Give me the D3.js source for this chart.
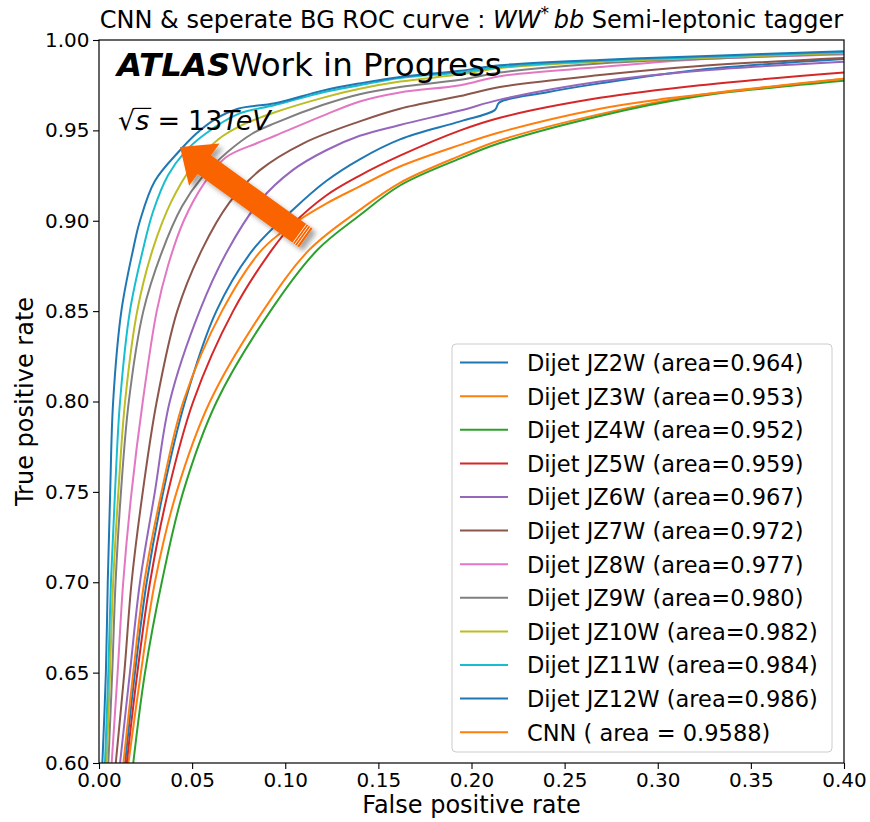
<!DOCTYPE html>
<html>
<head>
<meta charset="utf-8">
<script src="https://cdn.jsdelivr.net/npm/d3@7"></script>
<style>
body { margin: 0; background: #fff; }
text { font-family: "DejaVu Sans", sans-serif; }
</style>
</head>
<body>
<div id="chart"></div>
<script>
// ROC points: [false positive rate, true positive rate]
var jz2W = [[0.0140,0.60],[0.0193,0.65],[0.0256,0.70],[0.0345,0.75],[0.0462,0.80],[0.0630,0.85],[0.0827,0.884],[0.104,0.906],[0.122,0.922],[0.140,0.934],[0.1616,0.945],[0.194,0.955],[0.2125,0.9612],[0.2150,0.9655],[0.240,0.971],[0.269,0.976],[0.3227,0.9835],[0.40,0.9895]];
var jz3W = [[0.0158,0.60],[0.0225,0.65],[0.0300,0.70],[0.0417,0.75],[0.0596,0.80],[0.0880,0.85],[0.1130,0.884],[0.140,0.906],[0.1616,0.921],[0.194,0.936],[0.2153,0.9445],[0.269,0.959],[0.3227,0.9697],[0.36,0.9742],[0.40,0.9785]];
var jz4W = [[0.0184,0.60],[0.0247,0.65],[0.0337,0.70],[0.0452,0.75],[0.0632,0.80],[0.0920,0.85],[0.1172,0.8838],[0.140,0.903],[0.1616,0.9195],[0.194,0.9345],[0.2153,0.943],[0.269,0.958],[0.3227,0.969],[0.36,0.9735],[0.40,0.9775]];
var jz5W = [[0.0149,0.60],[0.0206,0.65],[0.0274,0.70],[0.0371,0.75],[0.0506,0.80],[0.0720,0.85],[0.0929,0.884],[0.104,0.898],[0.122,0.914],[0.140,0.925],[0.1616,0.936],[0.194,0.950],[0.2153,0.957],[0.269,0.968],[0.3227,0.975],[0.40,0.982]];
var jz6W = [[0.0113,0.60],[0.0166,0.65],[0.0220,0.70],[0.0300,0.75],[0.0380,0.80],[0.0540,0.85],[0.0693,0.884],[0.0864,0.911],[0.104,0.928],[0.122,0.939],[0.140,0.947],[0.1616,0.953],[0.194,0.961],[0.2153,0.967],[0.269,0.977],[0.3227,0.983],[0.40,0.988]];
var jz7W = [[0.0090,0.60],[0.0136,0.65],[0.0175,0.70],[0.0235,0.75],[0.0310,0.80],[0.0420,0.85],[0.0553,0.884],[0.070,0.910],[0.0864,0.928],[0.110,0.943],[0.140,0.955],[0.1616,0.962],[0.194,0.969],[0.2153,0.974],[0.269,0.9806],[0.3227,0.9856],[0.40,0.990]];
var jz8W = [[0.0068,0.60],[0.0100,0.65],[0.0130,0.70],[0.0175,0.75],[0.0235,0.80],[0.0310,0.85],[0.0370,0.875],[0.0455,0.90],[0.056,0.92],[0.068,0.935],[0.085,0.943],[0.0945,0.947],[0.120,0.958],[0.140,0.966],[0.1616,0.971],[0.194,0.975],[0.2153,0.980],[0.269,0.985],[0.3227,0.9893],[0.40,0.992]];
var jz9W = [[0.0050,0.60],[0.0071,0.65],[0.0089,0.70],[0.0118,0.75],[0.0160,0.80],[0.0238,0.85],[0.0335,0.882],[0.0446,0.908],[0.0553,0.924],[0.069,0.938],[0.082,0.948],[0.0945,0.954],[0.120,0.964],[0.140,0.970],[0.1616,0.974],[0.194,0.978],[0.2153,0.982],[0.269,0.987],[0.3227,0.9895],[0.40,0.9925]];
var jz10W = [[0.0041,0.60],[0.0059,0.65],[0.0076,0.70],[0.0104,0.75],[0.0140,0.80],[0.0205,0.85],[0.0288,0.884],[0.039,0.911],[0.050,0.930],[0.064,0.945],[0.077,0.953],[0.0945,0.960],[0.120,0.968],[0.140,0.973],[0.1616,0.977],[0.194,0.981],[0.2153,0.9845],[0.269,0.988],[0.3227,0.990],[0.40,0.993]];
var jz11W = [[0.0032,0.60],[0.0050,0.65],[0.0064,0.70],[0.0086,0.75],[0.0113,0.80],[0.0166,0.85],[0.0236,0.884],[0.029,0.905],[0.037,0.925],[0.046,0.938],[0.057,0.948],[0.0746,0.959],[0.0945,0.964],[0.120,0.971],[0.140,0.975],[0.1616,0.979],[0.194,0.982],[0.2153,0.985],[0.269,0.9885],[0.3227,0.9905],[0.40,0.9933]];
var jz12W = [[0.0018,0.60],[0.0037,0.65],[0.0047,0.70],[0.0060,0.75],[0.0076,0.80],[0.0120,0.85],[0.0183,0.884],[0.0220,0.90],[0.030,0.922],[0.0435,0.939],[0.052,0.948],[0.062,0.956],[0.0746,0.962],[0.0945,0.965],[0.120,0.972],[0.140,0.976],[0.1616,0.9795],[0.194,0.983],[0.2153,0.986],[0.269,0.989],[0.3227,0.991],[0.40,0.9938]];
var cnn = [[0.0131,0.60],[0.0184,0.65],[0.0243,0.70],[0.0336,0.75],[0.0453,0.80],[0.0660,0.85],[0.0875,0.884],[0.104,0.898],[0.122,0.9095],[0.140,0.919],[0.1616,0.930],[0.194,0.942],[0.2153,0.949],[0.269,0.962],[0.30,0.967],[0.3227,0.9697],[0.36,0.974],[0.40,0.9785]];

var seriesLabels = ["Dijet JZ2W (area=0.964)", "Dijet JZ3W (area=0.953)", "Dijet JZ4W (area=0.952)",
    "Dijet JZ5W (area=0.959)", "Dijet JZ6W (area=0.967)", "Dijet JZ7W (area=0.972)",
    "Dijet JZ8W (area=0.977)", "Dijet JZ9W (area=0.980)", "Dijet JZ10W (area=0.982)",
    "Dijet JZ11W (area=0.984)", "Dijet JZ12W (area=0.986)", "CNN ( area = 0.9588)"];
var seriesColors = ["#1f77b4", "#ff7f0e", "#2ca02c", "#d62728", "#9467bd", "#8c564b",
    "#e377c2", "#7f7f7f", "#bcbd22", "#17becf", "#1f77b4", "#ff7f0e"];
var seriesPoints = [jz2W, jz3W, jz4W, jz5W, jz6W, jz7W, jz8W, jz9W, jz10W, jz11W, jz12W, cnn];

var xTicks = [0, 0.05, 0.10, 0.15, 0.20, 0.25, 0.30, 0.35, 0.40];
var yTicks = [0.60, 0.65, 0.70, 0.75, 0.80, 0.85, 0.90, 0.95, 1.00];

// arrow annotation, tail -> tip in data coords
var arrowTail = [0.1110, 0.8905];
var arrowTip = [0.0435, 0.9408];

var series = seriesPoints.map(function (p, i) {
    return {points: p, label: seriesLabels[i], color: seriesColors[i]};
});

var margin = {top: 40, right: 26, bottom: 59, left: 99},
    width = 870 - margin.left - margin.right,
    height = 822 - margin.top - margin.bottom;

var x = d3.scaleLinear().domain([0, 0.4]).range([0, width]);
var y = d3.scaleLinear().domain([0.6, 1.0]).range([height, 0]);

var svg = d3.select("#chart").append("svg")
    .attr("width", 870)
    .attr("height", 822);

var defs = svg.append("defs");
defs.append("clipPath").attr("id", "plotClip")
    .append("rect").attr("width", width).attr("height", height);
var shadow = defs.append("filter").attr("id", "arrowShadow")
    .attr("x", "-30%").attr("y", "-30%").attr("width", "160%").attr("height", "160%");
shadow.append("feDropShadow")
    .attr("dx", 4).attr("dy", 4).attr("stdDeviation", 2.5)
    .attr("flood-color", "#000").attr("flood-opacity", 0.35);

var g = svg.append("g")
    .attr("transform", "translate(" + margin.left + "," + margin.top + ")");

var valueline = d3.line()
    .x(function (d) { return x(d[0]); })
    .y(function (d) { return y(d[1]); })
    .curve(d3.curveCatmullRom.alpha(0.5));

g.append("g")
    .attr("clip-path", "url(#plotClip)")
    .selectAll("path")
    .data(series)
    .enter().append("path")
    .attr("d", function (d) { return valueline(d.points); })
    .attr("fill", "none")
    .attr("stroke", function (d) { return d.color; })
    .attr("stroke-width", 2)
    .attr("stroke-linejoin", "round");

// axes
var xAxis = d3.axisBottom(x).tickValues(xTicks).tickFormat(d3.format(".2f"))
    .tickSizeInner(6).tickSizeOuter(0).tickPadding(3.5);
var yAxis = d3.axisLeft(y).tickValues(yTicks).tickFormat(d3.format(".2f"))
    .tickSizeInner(6).tickSizeOuter(0).tickPadding(3.5);

var gx = g.append("g")
    .attr("transform", "translate(0," + height + ")")
    .call(xAxis)
    .attr("font-size", 20);
gx.select(".domain").remove();
gx.selectAll("text").attr("fill", "#000");
gx.selectAll("line").attr("stroke", "#000").attr("stroke-width", 1.1);

var gy = g.append("g")
    .call(yAxis)
    .attr("font-size", 20);
gy.select(".domain").remove();
gy.selectAll("text").attr("fill", "#000");
gy.selectAll("line").attr("stroke", "#000").attr("stroke-width", 1.1);

g.append("rect")
    .attr("width", width)
    .attr("height", height)
    .attr("fill", "none")
    .attr("stroke", "#000")
    .attr("stroke-width", 1.2);

// axis labels
g.append("text")
    .attr("x", width / 2)
    .attr("y", height + 50)
    .attr("text-anchor", "middle")
    .attr("font-size", 24)
    .text("False positive rate");

g.append("text")
    .attr("transform", "translate(" + (33 - margin.left) + "," + (height / 2) + ") rotate(-90)")
    .attr("text-anchor", "middle")
    .attr("font-size", 24)
    .text("True positive rate");

// title
var title = g.append("text")
    .attr("x", width / 2)
    .attr("y", -12)
    .attr("text-anchor", "middle")
    .attr("font-size", 24);
title.append("tspan").text("CNN & seperate BG ROC curve : ");
title.append("tspan").attr("font-style", "italic").text("WW");
title.append("tspan").attr("font-size", 17).attr("dy", -9).text("*");
title.append("tspan").attr("font-style", "italic").attr("dy", 9).text("\u2009bb");
title.append("tspan").text(" Semi-leptonic tagger");

// ATLAS label
var atlas = g.append("text")
    .attr("x", 18)
    .attr("y", 36)
    .attr("font-size", 32.5);
atlas.append("tspan").attr("font-weight", "bold").attr("font-style", "italic").text("ATLAS");
atlas.append("tspan").text("Work in Progress");

// sqrt(s) = 13TeV, pieces placed one after another
var fs = 27, baseY = 90, cursor = 19;
function piece(str, italic) {
    var t = g.append("text")
        .attr("x", cursor)
        .attr("y", baseY)
        .attr("font-size", fs)
        .attr("font-style", italic ? "italic" : "normal")
        .text(str);
    var w = t.node().getComputedTextLength();
    cursor += w;
    return w;
}
piece("\u221A", false);
var sStart = cursor;
var sW = piece("s", true);
g.append("line")
    .attr("x1", sStart - 1).attr("x2", sStart + sW + 2)
    .attr("y1", baseY - 0.8 * fs).attr("y2", baseY - 0.8 * fs)
    .attr("stroke", "#000").attr("stroke-width", 1.2);
cursor += 0.3 * fs;
piece("=", false);
cursor += 0.3 * fs;
piece("13", false);
piece("TeV", true);

// big arrow
var tail = [x(arrowTail[0]), y(arrowTail[1])],
    tip = [x(arrowTip[0]), y(arrowTip[1])];
var dx = tip[0] - tail[0], dy = tip[1] - tail[1],
    len = Math.sqrt(dx * dx + dy * dy),
    ux = dx / len, uy = dy / len,
    nx = -uy, ny = ux;
var hw = 11.5, hh = 26, hl = 30;
var base = [tip[0] - ux * hl, tip[1] - uy * hl];
function pt(p, s) { return [p[0] + nx * s, p[1] + ny * s]; }
var arrowPts = [pt(tail, hw), pt(base, hw), pt(base, hh), tip, pt(base, -hh), pt(base, -hw), pt(tail, -hw)];
g.append("path")
    .attr("d", d3.line()(arrowPts) + "Z")
    .attr("fill", "#f96400")
    .attr("filter", "url(#arrowShadow)");
[2.5, 5, 7.5].forEach(function (k) {
    var c = [tail[0] + ux * k, tail[1] + uy * k];
    var a = pt(c, hw), b = pt(c, -hw);
    g.append("line")
        .attr("x1", a[0]).attr("y1", a[1]).attr("x2", b[0]).attr("y2", b[1])
        .attr("stroke", "#fff").attr("stroke-width", 0.9);
});

// legend
var legend = g.append("g").attr("transform", "translate(353,304)");
legend.append("rect")
    .attr("width", 380)
    .attr("height", 408)
    .attr("rx", 4)
    .attr("fill", "#fff")
    .attr("fill-opacity", 0.8)
    .attr("stroke", "#cccccc");
var rows = legend.selectAll("g.row")
    .data(series)
    .enter().append("g")
    .attr("class", "row")
    .attr("transform", function (d, i) { return "translate(0," + (18.6 + i * 33.6) + ")"; });
rows.append("line")
    .attr("x1", 8).attr("x2", 56)
    .attr("stroke", function (d) { return d.color; })
    .attr("stroke-width", 2);
rows.append("text")
    .attr("x", 75)
    .attr("y", 8.4)
    .attr("font-size", 22.5)
    .text(function (d) { return d.label; });
</script>
</body>
</html>
